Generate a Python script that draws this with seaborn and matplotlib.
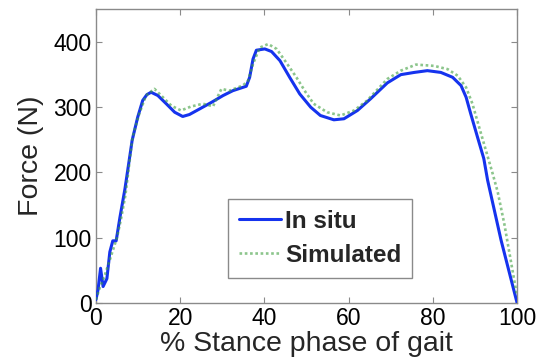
import matplotlib
matplotlib.use("Agg")
import matplotlib.pyplot as plt
import seaborn as sns
import pandas as pd

# ─── Data ──────────────────────────────────────────────
insitu_x = [0, 0.5, 1.1, 1.7, 2.6, 3.3, 4.0, 4.8, 5.7, 6.9, 8.6, 9.9, 11.1, 12.1,
            13.1, 14.7, 16.7, 18.7, 20.6, 22.2, 24.6, 27.4, 30.2, 32.5, 35.7, 36.5,
            37.3, 38.1, 40.1, 41.7, 43.7, 46.0, 48.4, 51.0, 53.3, 56.5, 58.9, 62.1,
            65.2, 69.2, 72.4, 75.6, 78.7, 81.9, 84.7, 86.7, 87.9, 89.0, 90.6, 92.1,
            93.0, 96.2, 100]
insitu_y = [5, 20, 53, 25, 37, 78, 95, 95, 131, 175, 249, 284, 310, 319,
            322.6, 317.6, 305, 292, 285.5, 288.5, 297, 307, 317.6, 325, 331.8, 345.5,
            373.5, 387, 389, 385, 371, 345.5, 320, 299.7, 287, 280.4, 282, 294.7,
            312.5, 337, 349.6, 353, 355.7, 353, 345.5, 332.8, 315, 289.6, 254, 221,
            188, 96, 0]

sim_x = [0, 1, 2, 3, 4, 5, 6, 7, 8.7, 10.3, 11.9, 13.9, 15.9, 17.9, 20.2, 22.6,
         25.4, 27.8, 29.8, 31.7, 34.9, 36.1, 37.3, 38.9, 40.9, 42.9, 45.2, 47.6,
         49.8, 51.7, 54.9, 58.1, 61.3, 64.4, 69.2, 72.4, 76.0, 80.3, 83.5, 85.9,
         87.9, 89.4, 91.0, 92.6, 94.2, 95.4, 97.0, 98.5, 100]
sim_y = [5, 25, 40, 60, 80, 100, 130, 165, 254, 290, 317.6, 327.8, 315, 302, 294.7,
         300.8, 305, 301, 327.8, 325, 333, 340, 366, 391, 396.5, 389, 368, 345.5,
         322.6, 305, 292, 287, 294.7, 310, 343, 355.7, 365, 363, 358, 348,
         330, 305, 269, 233.6, 198, 170, 120, 65, 10]

x_ticks = [0, 20, 40, 60, 80, 100]
y_ticks = [0, 100, 200, 300, 400]

sns.set_style("white")
plt.rcParams["font.family"] = ["Liberation Sans", "DejaVu Sans"]

fig = plt.figure(figsize=(5.42, 3.64), dpi=100)
ax = fig.add_axes([0.177, 0.168, 0.777, 0.807])

insitu = pd.DataFrame({"x": insitu_x, "y": insitu_y})
sim = pd.DataFrame({"x": sim_x, "y": sim_y})

sns.lineplot(data=insitu, x="x", y="y", ax=ax, color="#1533ee", lw=2.2,
             label="In situ", zorder=3)
sns.lineplot(data=sim, x="x", y="y", ax=ax, color="#3f9f3f", lw=1.9,
             linestyle=(0, (1, 1)), alpha=0.6, label="Simulated", zorder=4)

ax.set_xlim(0, 100)
ax.set_ylim(0, 450)
ax.set_xticks(x_ticks)
ax.set_yticks(y_ticks)
ax.set_xlabel("% Stance phase of gait", fontsize=20.5, labelpad=1)
ax.set_ylabel("Force (N)", fontsize=20.5, labelpad=7)

for s in ax.spines.values():
    s.set_visible(True)
    s.set_color("#8a8a8a")
    s.set_linewidth(1.0)
ax.tick_params(direction="in", length=4, width=0.8, color="#8a8a8a",
               labelsize=16.5, labelcolor="black", top=True, right=True,
               bottom=True, left=True, pad=3)

leg = ax.legend(loc="lower left", bbox_to_anchor=(0.3135, 0.085), borderaxespad=0,
                fancybox=False, framealpha=1, edgecolor="#8a8a8a",
                handlelength=1.75, handletextpad=0.15, borderpad=0.45,
                labelspacing=0.45, prop={"weight": "bold", "size": 17.5})
leg.get_frame().set_linewidth(1.0)

fig.savefig("out.png", dpi=100)
